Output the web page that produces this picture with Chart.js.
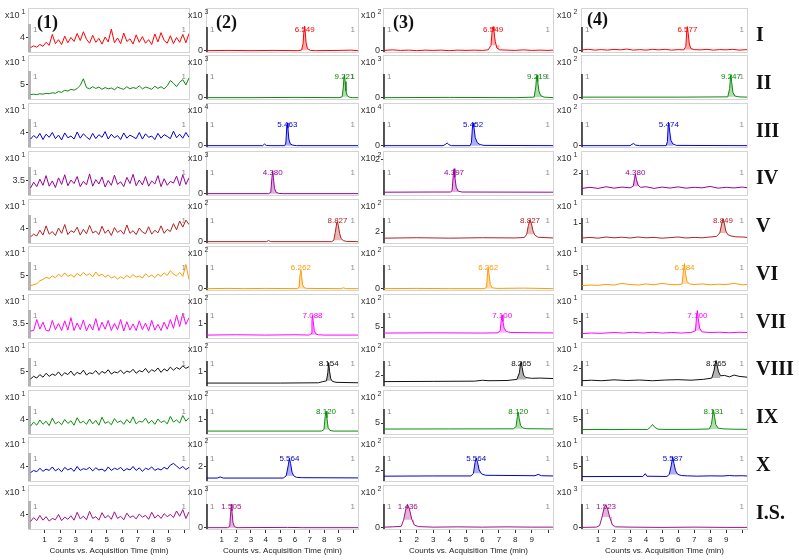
<!DOCTYPE html>
<html>
<head>
<meta charset="utf-8">
<script src="https://cdn.jsdelivr.net/npm/chart.js@4.4.0/dist/chart.umd.min.js"></script>
<style>
  body { margin: 0; background: #fff; width: 799px; height: 560px; position: relative; overflow: hidden; }
  canvas.panel { position: absolute; }
  .hdr { position: absolute; font: bold 18px "Liberation Serif", "Times New Roman", serif; line-height: 18px; color: #111; }
  .rowname { position: absolute; font: bold 20px "Liberation Serif", "Times New Roman", serif; line-height: 20px; color: #111; }
</style>
</head>
<body>
<script>
// ---- data ----
const rowNames = ['I', 'II', 'III', 'IV', 'V', 'VI', 'VII', 'VIII', 'IX', 'X', 'I.S.'];
const rowColors = ['#ff0000', '#0a8a0a', '#0000dd', '#990099', '#b22222', '#ff9900', '#ff00ff', '#111111', '#0a8f0a', '#0000cc', '#a0108a'];
const colHeaders = ['(1)', '(2)', '(3)', '(4)'];
const xTickValues = [1, 2, 3, 4, 5, 6, 7, 8, 9, 10];

// column (1): blank noise traces, x10^1
const noiseTimes = [0.1,0.3,0.5,0.7,0.9,1.1,1.3,1.5,1.7,1.9,2.1,2.3,2.5,2.7,2.9,3.1,3.3,3.5,3.7,3.9,4.1,4.3,4.5,4.7,4.9,5.1,5.3,5.5,5.7,5.9,6.1,6.3,6.5,6.7,6.9,7.1,7.3,7.5,7.7,7.9,8.1,8.3,8.5,8.7,8.9,9.1,9.3,9.5,9.7,9.9,10.1,10.3];
const noiseI = [3.76,3.80,3.77,3.83,3.79,3.88,3.81,4.06,3.85,3.94,3.83,4.02,3.87,3.99,3.90,4.08,3.92,4.12,3.95,3.86,4.04,3.88,3.97,3.84,4.00,3.89,4.18,3.87,3.98,3.85,4.09,3.90,3.96,3.84,4.05,3.88,4.01,3.86,3.94,3.83,4.07,3.89,4.10,3.92,3.86,4.03,3.85,3.99,3.88,4.06,3.87,4.08];
const noiseII = [4.76,4.77,4.76,4.78,4.77,4.79,4.78,4.80,4.79,4.83,4.81,4.86,4.84,4.88,4.86,4.90,4.97,5.12,4.92,4.89,4.94,4.90,4.93,4.88,4.92,4.89,4.91,4.87,4.93,4.90,4.88,4.94,4.89,4.92,4.90,4.96,4.89,4.93,4.91,4.88,4.95,4.90,4.94,4.89,4.96,5.08,5.02,4.94,5.04,5.10,4.98,5.14];
const noiseIII = [3.84,3.92,3.86,3.97,3.83,3.95,3.88,3.99,3.85,3.93,3.82,3.98,3.87,3.91,3.84,4.00,3.86,3.96,3.89,3.83,3.97,3.85,3.94,3.88,4.01,3.84,3.95,3.87,3.92,3.83,3.98,3.86,3.93,3.89,3.85,3.99,3.84,3.96,3.88,3.91,3.83,3.97,3.86,3.94,3.90,3.85,4.02,3.87,3.95,3.86,3.99,3.88];
const noiseIV = [3.32,3.45,3.35,3.52,3.38,3.60,3.36,3.48,3.33,3.55,3.40,3.62,3.37,3.50,3.42,3.58,3.35,3.47,3.39,3.64,3.36,3.51,3.41,3.57,3.34,3.49,3.38,3.61,3.40,3.46,3.35,3.56,3.42,3.63,3.37,3.50,3.39,3.58,3.36,3.48,3.41,3.60,3.35,3.53,3.38,3.47,3.43,3.59,3.37,3.62,3.40,3.55];
const noiseV = [3.80,3.86,3.82,3.95,3.84,4.05,3.86,3.92,3.83,4.00,3.88,4.08,3.85,3.94,3.90,4.02,3.84,3.97,3.87,4.06,3.89,3.93,3.85,4.04,3.88,3.96,3.83,4.01,3.90,3.95,3.86,4.07,3.88,3.94,3.85,4.00,3.91,3.87,4.03,3.86,3.95,3.89,4.05,3.88,3.97,3.92,4.10,3.96,4.16,4.02,4.18,4.08];
const noiseVI = [4.76,4.78,4.80,4.87,4.90,4.95,4.92,4.98,4.94,5.02,4.96,5.05,4.97,5.01,4.95,5.04,4.98,5.06,4.99,5.03,4.96,5.07,4.98,5.02,4.95,5.00,4.93,4.97,4.91,4.96,4.92,4.99,4.94,5.01,4.95,4.98,4.93,5.03,4.96,5.00,4.94,5.02,4.97,5.05,4.99,5.10,5.02,4.98,5.06,4.97,5.24,4.90];
const noiseVII = [3.32,3.33,3.58,3.36,3.52,3.33,3.32,3.56,3.35,3.49,3.33,3.55,3.34,3.62,3.33,3.50,3.35,3.57,3.32,3.48,3.34,3.60,3.33,3.52,3.36,3.56,3.33,3.49,3.35,3.58,3.32,3.53,3.34,3.48,3.33,3.55,3.35,3.50,3.32,3.56,3.34,3.47,3.33,3.52,3.36,3.58,3.38,3.68,3.42,3.72,3.47,3.62];
const noiseVIII = [4.82,4.88,4.84,4.92,4.86,4.95,4.88,4.93,4.90,4.98,4.89,4.96,4.92,5.00,4.90,4.97,4.93,5.02,4.91,4.96,4.94,5.01,4.92,4.99,4.95,5.03,4.93,4.98,4.96,5.02,4.94,5.00,4.97,5.04,4.95,5.01,4.98,5.06,4.96,5.03,4.99,5.07,4.97,5.05,5.00,5.09,5.02,5.08,5.04,5.12,5.06,5.10];
const noiseIX = [3.84,3.93,3.86,3.98,3.88,3.95,3.85,4.02,3.89,3.94,3.87,3.99,3.90,3.96,3.86,4.03,3.91,3.95,3.88,4.00,3.89,3.97,3.86,4.04,3.90,3.94,3.87,4.01,3.92,3.96,3.88,3.99,3.91,4.05,3.89,3.95,3.93,4.02,3.90,3.97,3.88,4.00,3.92,3.96,3.89,4.06,3.93,3.98,3.91,4.08,3.95,4.03];
const noiseX = [3.85,3.90,3.87,3.95,3.88,3.93,3.90,3.98,3.89,3.94,3.87,3.97,3.91,3.95,3.88,3.99,3.90,3.94,3.92,3.97,3.89,3.96,3.91,3.93,3.88,3.98,3.90,3.95,3.92,3.97,3.89,3.94,3.91,3.99,3.90,3.96,3.88,3.95,3.92,3.98,3.90,3.94,3.91,3.97,3.93,4.02,4.06,4.00,3.94,3.99,3.92,3.97];
const noiseIS = [3.83,3.92,3.85,3.97,3.86,3.94,3.84,3.90,3.87,3.99,3.85,3.93,3.88,3.96,3.86,4.04,3.89,3.95,3.87,4.06,3.90,3.94,3.86,4.03,3.91,3.97,3.88,4.05,3.90,3.95,3.87,4.02,3.92,3.96,3.89,4.00,3.93,3.97,3.88,4.04,3.91,3.98,3.90,4.01,3.94,3.99,3.92,4.07,3.95,4.10,3.90,4.05];
const col1Ticks = [4, 5, 4, 3.5, 4, 5, 3.5, 5, 4, 4, 4];
const col1Range = [[3.66,4.66],[4.66,5.66],[3.66,4.66],[3.16,4.16],[3.66,4.66],[4.66,5.66],[3.16,4.16],[4.66,5.66],[3.66,4.66],[3.66,4.66],[3.66,4.66]];
const col1Exp = [1, 1, 1, 1, 1, 1, 1, 1, 1, 1, 1];

// column (2): [time, counts]
const c2I = [[0,0],[1.5,0.01],[3,0],[4.5,0.01],[6.2,0],[6.45,0.02],[6.55,0.25],[6.62,0.8],[6.66,0.92],[6.7,0.7],[6.76,0.3],[6.85,0.08],[7.05,0.01],[7.4,0],[9,0.01],[9.8,0.02],[10.3,0]];
const c2II = [[0,0],[3,0],[6,0.01],[9.0,0],[9.22,0.03],[9.3,0.4],[9.35,0.8],[9.38,0.85],[9.42,0.6],[9.48,0.25],[9.56,0.08],[9.7,0.02],[9.9,0],[10.3,0]];
const c2III = [[0,0],[3.8,0],[3.92,0.06],[4.05,0.01],[4.3,0],[5.3,0],[5.38,0.1],[5.44,0.7],[5.48,0.85],[5.52,0.65],[5.58,0.25],[5.68,0.07],[5.85,0.02],[6.1,0],[10.3,0]];
const c2IV = [[0,0],[4.2,0],[4.35,0.05],[4.43,0.6],[4.48,0.85],[4.53,0.6],[4.6,0.2],[4.72,0.05],[4.9,0.01],[5.2,0],[10.3,0]];
const c2V = [[0,0],[4.05,0],[4.2,0.04],[4.35,0],[8.5,0],[8.65,0.05],[8.75,0.35],[8.85,0.7],[8.9,0.75],[8.96,0.6],[9.05,0.3],[9.15,0.12],[9.3,0.04],[9.5,0.01],[10.3,0]];
const c2VI = [[0,0],[1.5,0.01],[2.5,0],[4,0.01],[6.15,0],[6.28,0.05],[6.35,0.55],[6.4,0.7],[6.45,0.5],[6.52,0.15],[6.62,0.04],[6.8,0.01],[9.1,0],[9.3,0.03],[9.5,0],[10.3,0]];
const c2VII = [[0,0.2],[2,0.22],[4,0.2],[6,0.22],[7,0.2],[7.1,0.3],[7.16,1.2],[7.2,1.55],[7.25,1.1],[7.32,0.5],[7.42,0.28],[7.6,0.22],[8,0.2],[10.3,0.2]];
const c2VIII = [[0,0.2],[5,0.2],[7.6,0.22],[7.9,0.3],[8.15,0.35],[8.24,0.9],[8.3,1.6],[8.36,1.0],[8.44,0.5],[8.55,0.32],[8.8,0.25],[10.3,0.22]];
const c2IX = [[0,0.2],[7.8,0.2],[7.98,0.3],[8.06,1.2],[8.12,1.55],[8.18,1.1],[8.26,0.45],[8.38,0.25],[8.6,0.2],[10.3,0.2]];
const c2X = [[0,0.4],[0.7,0.4],[0.9,0.55],[1.1,0.4],[5.2,0.4],[5.4,0.7],[5.55,2.2],[5.62,3.1],[5.7,2.4],[5.8,1.2],[5.92,0.7],[6.1,0.5],[6.5,0.45],[10.3,0.42]];
const c2IS = [[0,0],[1.4,0],[1.55,0.05],[1.62,0.6],[1.66,0.88],[1.7,0.62],[1.77,0.2],[1.87,0.04],[2.05,0],[5.5,0.01],[6.5,0],[10.3,0]];
const c2Labels = ['6.549', '9.221', '5.463', '4.380', '8.827', '6.262', '7.088', '8.154', '8.120', '5.564', '1.505'];
const c2PeakTimes = [6.66, 9.38, 5.48, 4.48, 8.9, 6.4, 7.2, 8.3, 8.12, 5.62, 1.66];
const c2Ticks = [0, 0, 0, 0, 0, 0, 1, 1, 1, 2, 0];
const c2Range = [[-0.05,1.6],[-0.05,1.6],[-0.05,1.6],[-0.05,1.6],[-0.05,1.6],[-0.05,1.6],[0,3],[0,3],[0,3],[0,6],[-0.05,1.6]];
const c2Exp = [3, 3, 4, 3, 2, 2, 2, 2, 2, 2, 3];

// column (3)
const c3I = [[0,0.01],[0.5,0.03],[1,0.01],[1.5,0.02],[2,0],[2.5,0.02],[3,0.01],[3.5,0.02],[4,0],[4.5,0.02],[5,0.01],[5.5,0.02],[6,0.01],[6.35,0.03],[6.52,0.2],[6.6,0.8],[6.65,0.9],[6.7,0.75],[6.78,0.35],[6.88,0.1],[7.05,0.03],[7.5,0.02],[8,0.01],[8.5,0.03],[9,0.01],[9.5,0.02],[10,0.01],[10.3,0.02]];
const c3II = [[0,0],[4,0.01],[8,0],[9.15,0.02],[9.25,0.4],[9.3,0.8],[9.33,0.85],[9.37,0.6],[9.44,0.25],[9.55,0.08],[9.75,0.02],[10.3,0]];
const c3III = [[0,0],[3.6,0],[3.75,0.05],[3.85,0.1],[3.95,0.04],[4.1,0],[5.25,0],[5.33,0.12],[5.39,0.7],[5.43,0.85],[5.48,0.7],[5.56,0.3],[5.68,0.12],[5.85,0.04],[6.1,0.01],[10.3,0]];
const c3IV = [[0,0.16],[3,0.17],[4.05,0.17],[4.15,0.25],[4.22,1.1],[4.27,1.5],[4.32,1.0],[4.4,0.45],[4.52,0.22],[4.75,0.17],[10.3,0.16]];
const c3V = [[0,1.72],[2,1.74],[4,1.72],[6,1.74],[8,1.73],[8.55,1.75],[8.7,1.9],[8.8,2.3],[8.9,2.55],[8.98,2.4],[9.08,2.05],[9.2,1.85],[9.4,1.76],[10.3,1.73]];
const c3VI = [[0,0],[2,0.01],[4,0],[6.1,0],[6.25,0.05],[6.31,0.6],[6.35,0.8],[6.4,0.55],[6.48,0.15],[6.6,0.03],[6.9,0.01],[8.5,0.02],[9.5,0.01],[10.3,0]];
const c3VII = [[0,4.45],[3,4.47],[6,4.45],[6.95,4.47],[7.08,4.7],[7.15,5.6],[7.2,6.1],[7.25,5.5],[7.32,4.9],[7.45,4.6],[7.7,4.5],[10.3,4.46]];
const c3VIII = [[0,1.7],[3,1.71],[5.5,1.72],[6,1.76],[6.4,1.74],[7.5,1.75],[8.1,1.8],[8.25,2.1],[8.32,2.5],[8.36,2.6],[8.42,2.35],[8.5,2.0],[8.65,1.88],[9,1.85],[9.5,1.86],[10.3,1.84]];
const c3IX = [[0,4.45],[4,4.46],[7.9,4.47],[8.05,4.7],[8.13,5.6],[8.18,6.0],[8.24,5.4],[8.32,4.8],[8.45,4.55],[8.7,4.48],[10.3,4.46]];
const c3X = [[0,1.72],[3,1.73],[5.3,1.73],[5.45,1.85],[5.55,2.35],[5.62,2.55],[5.7,2.35],[5.8,2.0],[5.95,1.82],[6.2,1.76],[9.2,1.74],[9.4,1.8],[9.6,1.74],[10.3,1.73]];
const c3IS = [[0,0.02],[0.5,0.03],[1.05,0.05],[1.2,0.3],[1.35,0.75],[1.45,0.85],[1.55,0.7],[1.7,0.3],[1.85,0.1],[2.1,0.04],[3,0.02],[4.5,0.03],[6,0.02],[7.5,0.03],[9,0.02],[10.3,0.02]];
const c3Labels = ['6.549', '9.219', '5.452', '4.397', '8.827', '6.262', '7.100', '8.265', '8.120', '5.564', '1.436'];
const c3PeakTimes = [6.65, 9.33, 5.43, 4.27, 8.9, 6.35, 7.2, 8.36, 8.18, 5.62, 1.45];
const c3Ticks = [0, 0, 0, 2, 2, 0, 5, 2, 5, 2, 0];
const c3Range = [[-0.05,1.6],[-0.05,1.6],[-0.05,1.6],[0,2.51],[1.5,3.5],[-0.05,1.6],[4,8],[1.5,3.5],[4,8],[1.5,3.5],[-0.05,1.6]];
const c3Exp = [2, 3, 4, 2, 2, 2, 2, 2, 2, 2, 2];

// column (4)
const c4I = [[0,0.03],[0.4,0.05],[0.8,0.02],[1.2,0.04],[1.6,0.02],[2,0.05],[2.4,0.03],[2.8,0.06],[3.2,0.02],[3.6,0.04],[4,0.02],[4.4,0.05],[4.8,0.03],[5.2,0.05],[5.6,0.02],[6,0.04],[6.35,0.03],[6.48,0.15],[6.54,0.75],[6.58,0.9],[6.63,0.65],[6.7,0.25],[6.8,0.08],[7,0.04],[7.4,0.03],[7.8,0.05],[8.2,0.02],[8.6,0.04],[9,0.03],[9.4,0.05],[9.8,0.02],[10.3,0.04]];
const c4II = [[0,0.02],[3,0.02],[6,0.02],[9.1,0.03],[9.22,0.35],[9.27,0.8],[9.3,0.85],[9.34,0.6],[9.42,0.2],[9.55,0.06],[9.8,0.03],[10.3,0.02]];
const c4III = [[0,0],[3,0],[3.12,0.05],[3.22,0.08],[3.35,0.02],[3.6,0],[5.25,0],[5.33,0.15],[5.38,0.75],[5.42,0.85],[5.47,0.55],[5.55,0.2],[5.68,0.06],[5.9,0.01],[10.3,0]];
const c4IV = [[0,0.6],[0.5,0.7],[1,0.6],[1.5,0.75],[2,0.62],[2.5,0.72],[3.0,0.65],[3.2,0.8],[3.28,1.5],[3.33,1.9],[3.4,1.4],[3.5,0.9],[3.65,0.7],[4,0.75],[4.5,0.6],[5,0.72],[5.5,0.63],[6,0.74],[6.5,0.62],[7,0.7],[7.5,0.65],[8,0.78],[8.5,0.62],[9,0.7],[9.5,0.64],[10,0.72],[10.3,0.66]];
const c4V = [[0,0.25],[0.5,0.28],[1,0.24],[1.5,0.3],[2,0.26],[2.5,0.29],[3,0.25],[3.5,0.3],[4,0.26],[4.5,0.28],[5,0.24],[5.5,0.27],[6,0.3],[6.5,0.25],[7,0.28],[7.5,0.26],[8,0.3],[8.4,0.33],[8.6,0.5],[8.72,0.95],[8.8,1.2],[8.88,1.0],[8.98,0.6],[9.1,0.42],[9.3,0.35],[9.6,0.31],[10,0.3],[10.3,0.28]];
const c4VI = [[0,2.8],[0.5,2.9],[1,2.85],[1.5,3.0],[2,2.9],[2.5,3.2],[3,3.0],[3.5,2.9],[4,3.1],[4.5,2.95],[5,3.2],[5.5,3.0],[6,2.95],[6.25,3.1],[6.33,5.5],[6.4,6.8],[6.46,5.0],[6.55,3.6],[6.7,3.1],[7,3.0],[7.5,3.1],[8,2.95],[8.5,3.05],[9,3.0],[9.5,3.2],[10,2.95],[10.3,3.0]];
const c4VII = [[0,2.8],[0.6,2.9],[1.2,2.85],[2,3.0],[2.6,2.9],[3.2,3.05],[3.8,2.9],[4.4,3.05],[5,2.9],[5.6,3.0],[6.2,2.9],[6.8,3.0],[7.08,3.3],[7.15,5.8],[7.2,7.0],[7.26,5.5],[7.34,3.8],[7.5,3.1],[8,3.0],[8.6,3.05],[9.2,2.95],[9.8,3.05],[10.3,3.0]];
const c4VIII = [[0,1.3],[0.6,1.33],[1.2,1.3],[2,1.35],[2.8,1.31],[3.6,1.34],[4.4,1.3],[5.2,1.34],[6,1.36],[6.8,1.33],[7.6,1.38],[8.1,1.45],[8.25,1.9],[8.32,2.3],[8.37,2.45],[8.43,2.2],[8.52,1.8],[8.65,1.58],[8.9,1.6],[9.2,1.52],[9.5,1.62],[9.8,1.55],[10.3,1.5]];
const c4IX = [[0,3.6],[1,3.62],[2,3.6],[3,3.63],[4.1,3.62],[4.3,4.0],[4.4,4.3],[4.55,3.9],[4.75,3.65],[5.5,3.62],[7,3.64],[7.95,3.68],[8.08,4.3],[8.16,5.6],[8.21,6.3],[8.27,5.4],[8.35,4.3],[8.5,3.8],[8.8,3.7],[9.3,3.66],[10.3,3.64]];
const c4X = [[0,3.6],[2,3.62],[3.8,3.62],[3.95,4.0],[4.05,3.65],[5.3,3.62],[5.45,3.9],[5.58,5.2],[5.66,6.3],[5.74,5.4],[5.84,4.4],[5.98,3.9],[6.2,3.75],[6.6,3.7],[7.2,3.66],[8,3.7],[8.8,3.68],[9.2,3.75],[9.5,3.7],[10,3.72],[10.3,3.68]];
const c4IS = [[0,0.01],[0.9,0.02],[1.1,0.08],[1.25,0.4],[1.4,0.78],[1.5,0.85],[1.6,0.7],[1.75,0.35],[1.9,0.1],[2.1,0.03],[3,0.02],[5,0.01],[7,0.02],[9,0.01],[10.3,0.01]];
const c4Labels = ['6.577', '9.247', '5.474', '4.380', '8.849', '6.284', '7.100', '8.265', '8.131', '5.587', '1.523'];
const c4PeakTimes = [6.58, 9.3, 5.42, 3.33, 8.8, 6.4, 7.2, 8.37, 8.21, 5.66, 1.5];
const c4Ticks = [0, 0, 0, 2, 1, 5, 5, 2, 5, 5, 0];
const c4Range = [[-0.05,1.6],[-0.05,1.6],[-0.05,1.6],[0,4],[0,2.2],[2,10],[2,10],[1,3.5],[3,9],[3,9],[-0.05,1.6]];
const c4Exp = [2, 2, 2, 1, 1, 1, 1, 1, 1, 1, 3];

// ---- layout (pixels) ----
const colLeft = [29, 207, 384, 582];
const colRight = [189, 358, 553, 747];
const axisW = [27, 20, 24, 26];
const ROW0 = 7.5, ROWSTEP = 47.76, PH = 44, PAD_T = 8, PAD_B = 6, XAXIS_H = 27;
const FONT = '"Liberation Sans", Arial, sans-serif';

const toPts = pairs => pairs.map(p => ({ x: p[0], y: p[1] }));
const noiseRows = [noiseI, noiseII, noiseIII, noiseIV, noiseV, noiseVI, noiseVII, noiseVIII, noiseIX, noiseX, noiseIS];

const columns = [
  { traces: noiseRows.map(v => noiseTimes.map((t, i) => ({ x: t, y: v[i] }))), ticks: col1Ticks, range: col1Range, exp: col1Exp },
  { traces: [c2I, c2II, c2III, c2IV, c2V, c2VI, c2VII, c2VIII, c2IX, c2X, c2IS].map(toPts), ticks: c2Ticks, range: c2Range, exp: c2Exp, labels: c2Labels, peaks: c2PeakTimes },
  { traces: [c3I, c3II, c3III, c3IV, c3V, c3VI, c3VII, c3VIII, c3IX, c3X, c3IS].map(toPts), ticks: c3Ticks, range: c3Range, exp: c3Exp, labels: c3Labels, peaks: c3PeakTimes },
  { traces: [c4I, c4II, c4III, c4IV, c4V, c4VI, c4VII, c4VIII, c4IX, c4X, c4IS].map(toPts), ticks: c4Ticks, range: c4Range, exp: c4Exp, labels: c4Labels, peaks: c4PeakTimes }
];

// frame, axis bar, "x10^n", the grey "1" markers and the peak label
const panelPlugin = {
  id: 'panel',
  beforeDatasetsDraw(chart, args, o) {
    const { ctx, chartArea: a } = chart;
    ctx.save();
    ctx.strokeStyle = '#d4d4d4';
    ctx.lineWidth = 1;
    ctx.strokeRect(Math.round(a.left) - 0.5, Math.round(a.top) + 0.5, Math.round(a.width) + 1, Math.round(a.height));
    if (o.col === 0) {
      ctx.fillStyle = '#b4b4b4';
      ctx.fillRect(a.left - 1, a.top + 16, 3, a.height - 16);
    } else {
      ctx.strokeStyle = '#222';
      ctx.lineWidth = 1.5;
      ctx.beginPath();
      ctx.moveTo(a.left, a.top + 19);
      ctx.lineTo(a.left, a.bottom);
      ctx.stroke();
    }
    ctx.restore();
  },
  afterDatasetsDraw(chart, args, o) {
    const { ctx, chartArea: a } = chart;
    ctx.save();
    ctx.textBaseline = 'middle';
    // x10^n
    ctx.fillStyle = '#333';
    ctx.font = '9px ' + FONT;
    ctx.textAlign = 'left';
    const x0 = o.col === 0 ? 3 : 1;
    ctx.fillText('x10', x0, a.top + 8);
    const w = ctx.measureText('x10').width;
    ctx.font = '7px ' + FONT;
    ctx.fillText(String(o.exp), x0 + w + 2, a.top + 4);
    // grey "1" markers
    ctx.fillStyle = '#8c8c8c';
    ctx.font = '8px ' + FONT;
    ctx.fillText('1', a.left + (o.col === 0 ? 4 : 3), a.top + 22);
    ctx.textAlign = 'right';
    ctx.fillText('1', a.right - 3, a.top + 22);
    // peak label
    if (o.label) {
      ctx.fillStyle = o.color;
      ctx.textAlign = 'center';
      ctx.font = '8px ' + FONT;
      ctx.fillText(o.label, chart.scales.x.getPixelForValue(o.peak), a.top + 22);
    }
    ctx.restore();
  }
};
Chart.register(panelPlugin);

function makePanel(c, r) {
  const col = columns[c];
  const bottomRow = r === rowNames.length - 1;
  const top = ROW0 + ROWSTEP * r;
  const cv = document.createElement('canvas');
  cv.className = 'panel';
  const left = colLeft[c] - axisW[c];
  const width = axisW[c] + (colRight[c] - colLeft[c]) + 2;
  const ctop = Math.round(top - PAD_T);
  const height = PAD_T + PH + (bottomRow ? XAXIS_H : PAD_B);
  cv.width = width;
  cv.height = height;
  cv.style.left = left + 'px';
  cv.style.top = ctop + 'px';
  document.body.appendChild(cv);

  const color = rowColors[r];
  const data = col.traces[r];
  const datasets = [];
  if (col.peaks) {
    const tp = col.peaks[r];
    const win = data.filter(p => p.x >= tp - 0.3 && p.x <= tp + 0.45);
    datasets.push({ data: win, borderWidth: 0, backgroundColor: color + '50', fill: { value: win[0].y }, pointRadius: 0 });
  }
  datasets.push({ data: data, borderColor: color, borderWidth: 1, fill: false, pointRadius: 0 });

  const tick = col.ticks[r];
  new Chart(cv, {
    type: 'line',
    data: { datasets: datasets },
    options: {
      responsive: false,
      animation: false,
      events: [],
      devicePixelRatio: 1,
      layout: { padding: { top: PAD_T, right: 2, bottom: bottomRow ? 0 : PAD_B, left: 0 } },
      elements: { line: { tension: 0 } },
      scales: {
        x: {
          type: 'linear', min: 0, max: 10.3, display: bottomRow,
          afterBuildTicks: s => { s.ticks = xTickValues.map(v => ({ value: v })); },
          afterFit: s => { s.height = bottomRow ? XAXIS_H : 0; s.paddingLeft = 0; s.paddingRight = 0; },
          ticks: { font: { size: 8, family: FONT }, color: '#222', padding: 2, maxRotation: 0, autoSkip: false,
                   callback: v => (v === 10 ? '' : String(v)) },
          grid: { drawOnChartArea: false, drawTicks: true, tickLength: 4, color: '#333' },
          border: { display: false },
          title: { display: true, text: 'Counts vs. Acquisition Time (min)', font: { size: 8, family: FONT }, color: '#222', padding: { top: 1, bottom: 0 } }
        },
        y: {
          min: col.range[r][0], max: col.range[r][1],
          afterBuildTicks: s => { s.ticks = [{ value: tick }]; },
          afterFit: s => { s.width = axisW[c]; s.paddingTop = 0; s.paddingBottom = 0; },
          ticks: { font: { size: 9, family: FONT }, color: '#333', padding: 1, callback: v => String(v) },
          grid: { drawOnChartArea: false, drawTicks: true, tickLength: 3, color: '#333' },
          border: { display: false }
        }
      },
      plugins: {
        legend: { display: false },
        tooltip: { enabled: false },
        panel: { col: c, exp: col.exp[r], color: color, label: col.labels ? col.labels[r] : null, peak: col.peaks ? col.peaks[r] : null }
      }
    }
  });
}

for (let c = 0; c < 4; c++) {
  for (let r = 0; r < rowNames.length; r++) makePanel(c, r);
}

// column headers and row names
const hdrPos = [[37, 13], [216, 13], [393, 13], [587, 10]];
colHeaders.forEach((h, i) => {
  const d = document.createElement('div');
  d.className = 'hdr';
  d.textContent = h;
  d.style.left = hdrPos[i][0] + 'px';
  d.style.top = hdrPos[i][1] + 'px';
  document.body.appendChild(d);
});
rowNames.forEach((n, r) => {
  const d = document.createElement('div');
  d.className = 'rowname';
  d.textContent = n;
  d.style.left = '756px';
  d.style.top = Math.round(34 + ROWSTEP * r - 10) + 'px';
  document.body.appendChild(d);
});
</script>
</body>
</html>
